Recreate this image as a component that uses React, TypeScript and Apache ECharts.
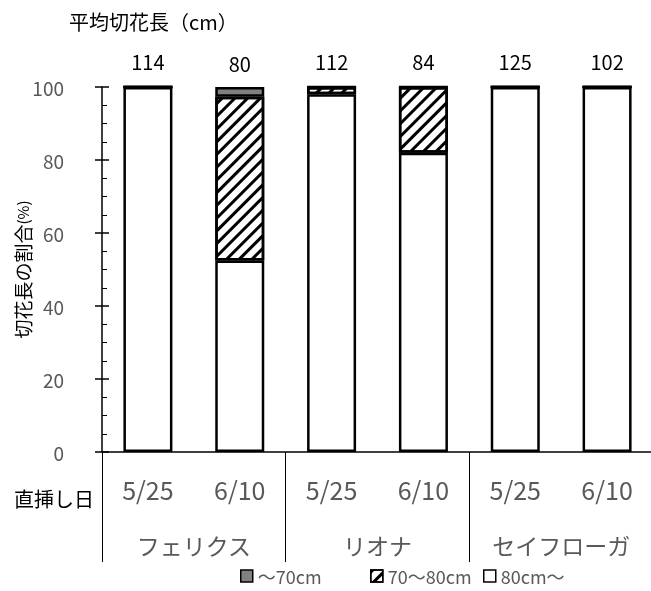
import React, { useEffect, useRef } from 'react';
import * as echarts from 'echarts';

const dates = ['5/25', '6/10', '5/25', '6/10', '5/25', '6/10'];
const varieties = ['フェリクス', 'リオナ', 'セイフローガ'];
const over80 = [100, 52.5, 98, 82, 100, 100];
const from70to80 = [0, 44.8, 2, 18, 0, 0];
const under70 = [0, 2.7, 0, 0, 0, 0];
const avgLength = [114, 80, 112, 84, 125, 102];
const legendNames = ['～70cm', '70～80cm', '80cm～'];

export default function App() {
  const ref = useRef<HTMLDivElement>(null);
  useEffect(() => {
    const chart = echarts.init(ref.current!, null, { renderer: 'svg' });
    const cjk = '"Noto Sans CJK JP", "Noto Sans", sans-serif';
    const border = { borderColor: '#000', borderWidth: 2.5 };
    const legendBase = { icon: 'rect', itemWidth: 12, itemHeight: 12, itemGap: 0, padding: 0, itemStyle: { borderWidth: 1.5 }, textStyle: { fontSize: 18, color: '#595959', fontFamily: cjk } };
    chart.setOption({
      animation: false,
      textStyle: { fontFamily: cjk },
      grid: { left: 102, top: 87, width: 551, height: 365, containLabel: false, outerBoundsMode: 'none' },
      legend: [
        { ...legendBase, data: [legendNames[0]], left: 240, top: 567 },
        { ...legendBase, data: [legendNames[1]], left: 370, top: 567 },
        { ...legendBase, data: [legendNames[2]], left: 483, top: 567 },
      ],
      xAxis: [
        {
          type: 'category', data: dates, position: 'bottom',
          axisLine: { lineStyle: { color: '#000', width: 1.5 } },
          axisTick: { show: false },
          axisLabel: { fontSize: 25, color: '#595959', margin: 24, fontFamily: cjk },
        },
        {
          type: 'category', data: varieties, position: 'bottom',
          axisLine: { show: false },
          axisTick: { show: true, interval: 0, length: 110, lineStyle: { color: '#000', width: 1 } },
          axisLabel: { fontSize: 23, color: '#595959', margin: 81, fontFamily: cjk },
          splitLine: { show: false },
        },
      ],
      yAxis: [
        {
          type: 'value', min: 0, max: 100, interval: 20, position: 'left',
          axisLine: { show: true, lineStyle: { color: '#000', width: 1.5 } },
          axisTick: { show: true, inside: true, length: 7, lineStyle: { color: '#000', width: 1.5 } },
          minorTick: { show: true, splitNumber: 4, length: 5, lineStyle: { color: '#000', width: 1 } },
          splitLine: { show: false },
          axisLabel: { fontSize: 19, color: '#595959', margin: 38, fontFamily: cjk },
          name: '切花長の割合{s|(%)}', nameLocation: 'middle', nameGap: 70, nameMoveOverlap: false,
          nameTextStyle: { fontSize: 19, color: '#000', fontFamily: cjk, rich: { s: { fontSize: 15, color: '#000', fontFamily: cjk } } },
        },
        {
          type: 'value', min: 0, max: 100, interval: 20, position: 'left',
          axisLine: { show: false },
          axisTick: { show: true, inside: false, length: 7, lineStyle: { color: '#000', width: 1.5 } },
          axisLabel: { show: false },
          splitLine: { show: false },
        },
      ],
      series: [
        {
          name: legendNames[2], type: 'bar', stack: 'a', data: over80, barWidth: 49,
          itemStyle: { color: '#fff', ...border },
        },
        {
          name: legendNames[1], type: 'bar', stack: 'a', data: from70to80, barWidth: 49,
          itemStyle: {
            color: '#fff', ...border,
            decal: { symbol: 'rect', symbolSize: 1, dashArrayX: [1, 0], dashArrayY: [3, 6], rotation: -Math.PI / 4, color: '#000', backgroundColor: '#fff' },
          },
        },
        {
          name: legendNames[0], type: 'bar', stack: 'a', data: under70, barWidth: 49,
          itemStyle: { color: '#808080', ...border },
          label: {
            show: true, position: 'top', distance: 14, color: '#000', fontSize: 20, fontFamily: cjk,
            formatter: (p: any) => String(avgLength[p.dataIndex]),
          },
        },
      ],
      graphic: [
        { type: 'text', left: 69, top: 11, style: { text: '平均切花長（cm）', fontSize: 20, fill: '#000', fontFamily: cjk } },
        { type: 'text', left: 14, top: 488, style: { text: '直挿し日', fontSize: 20, fill: '#000', fontFamily: cjk } },
      ],
    });
    return () => chart.dispose();
  }, []);
  return <div ref={ref} style={{ position: 'fixed', left: 0, top: 0, width: 651, height: 591 }} />;
}
